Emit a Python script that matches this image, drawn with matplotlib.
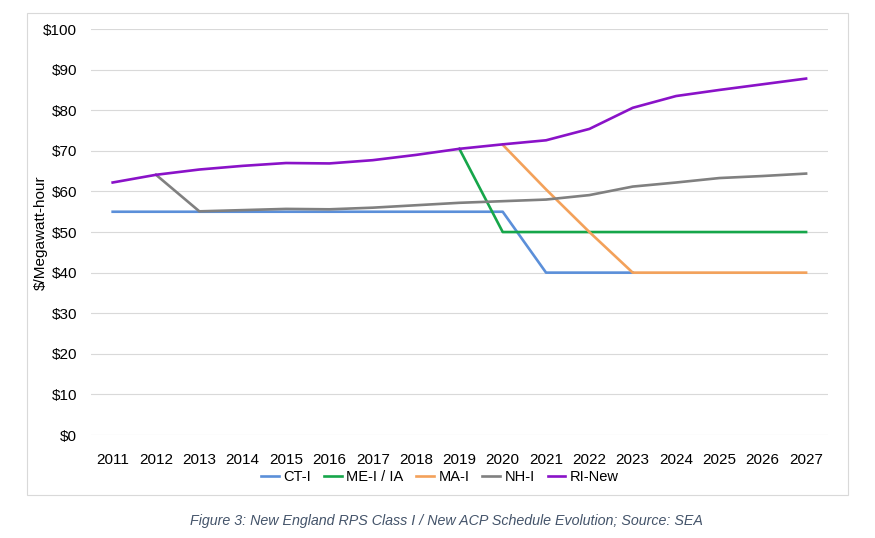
import matplotlib.pyplot as plt
import matplotlib.patches as patches
import numpy as np

# data ($/MWh)
years = [str(y) for y in range(2011, 2028)]
ct_i = [55, 55, 55, 55, 55, 55, 55, 55, 55, 55, 40, 40, 40, None, None, None, None]
me_i = [None, None, None, None, None, None, None, None, 70.5, 50, 50, 50, 50, 50, 50, 50, 50]
ma_i = [None, None, None, None, None, None, None, None, None, 71.5, 60.5, 50, 40, 40, 40, 40, 40]
nh_i = [None, 64.1, 55.1, 55.4, 55.7, 55.6, 56.0, 56.6, 57.2, 57.6, 58.0, 59.1, 61.2, 62.2, 63.3, 63.8, 64.4]
ri_new = [62.2, 64.1, 65.4, 66.3, 67.0, 66.9, 67.7, 69.0, 70.5, 71.6, 72.6, 75.4, 80.6, 83.5, 85.0, 86.4, 87.8]

series = [
    ('CT-I', ct_i, '#5B8FD9'),
    ('ME-I / IA', me_i, '#16A64A'),
    ('MA-I', ma_i, '#F3A15A'),
    ('NH-I', nh_i, '#808080'),
    ('RI-New', ri_new, '#8A12C8'),
]

plt.rcParams['font.family'] = ['Liberation Sans', 'DejaVu Sans']

fig = plt.figure(figsize=(8.75, 5.38), dpi=100)
ax = fig.add_axes([0.104, 0.1914, 0.842, 0.7546])

x = np.arange(len(years))
for name, vals, col in series:
    y = np.array([np.nan if v is None else v for v in vals], dtype=float)
    ax.plot(x, y, color=col, lw=1.9, label=name, solid_joinstyle='round')

ax.set_xlim(-0.5, len(years) - 0.5)
ax.set_ylim(0, 100)
ax.set_yticks(range(0, 101, 10))
ax.set_yticklabels([f'${v}' for v in range(0, 101, 10)])
ax.set_xticks(x)
ax.set_xticklabels(years)
ax.tick_params(length=0, labelsize=11, colors='#000000')
ax.tick_params(axis='x', pad=13)
ax.tick_params(axis='y', pad=10)
ax.grid(axis='y', color='#D9D9D9', lw=0.8)
ax.set_axisbelow(True)
for s in ax.spines.values():
    s.set_visible(False)

fig.text(41 / 875, 1 - 233 / 538, '$/Megawatt-hour', rotation=90,
         ha='center', va='center', fontsize=11)

fig.legend(handles=ax.get_lines(), loc='center', bbox_to_anchor=(440 / 875, 1 - 477 / 538),
           ncol=5, frameon=False, fontsize=10.5, handlelength=1.2, handletextpad=0.3,
           columnspacing=0.9)

# chart frame
fig.patches.append(patches.Rectangle((27 / 875, 1 - 495 / 538), (848 - 27) / 875, (495 - 13) / 538,
                                     transform=fig.transFigure, fill=False,
                                     edgecolor='#D9D9D9', lw=0.8))

fig.text(446 / 875, 1 - 521 / 538,
         'Figure 3: New England RPS Class I / New ACP Schedule Evolution; Source: SEA',
         ha='center', va='center', fontsize=10.3, style='italic', color='#44546A')

fig.savefig('out.png', dpi=100)
